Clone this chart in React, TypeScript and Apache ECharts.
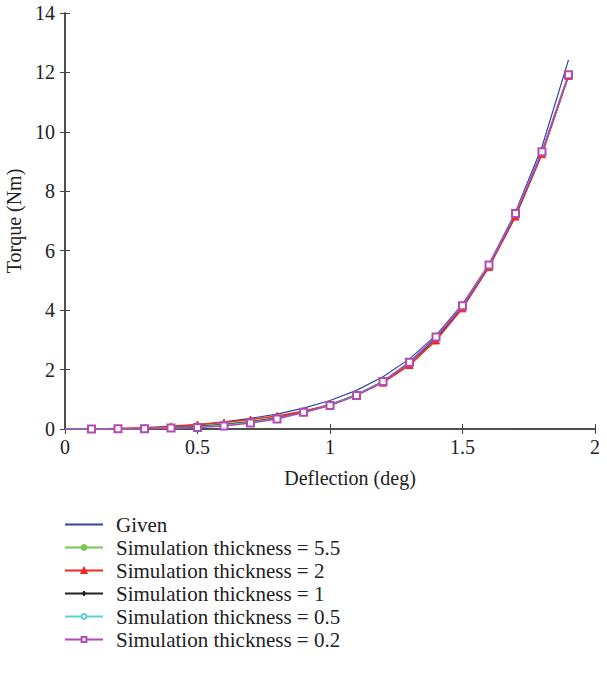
import React, { useEffect, useRef } from "react";
import * as echarts from "echarts";

const deflection = [0, 0.1, 0.2, 0.3, 0.4, 0.5, 0.6, 0.7, 0.8, 0.9, 1.0, 1.1, 1.2, 1.3, 1.4, 1.5, 1.6, 1.7, 1.8, 1.9];
const given = [0, 0, 0.01, 0.03, 0.07, 0.14, 0.24, 0.36, 0.5, 0.7, 0.96, 1.3, 1.76, 2.36, 3.15, 4.2, 5.55, 7.3, 9.5, 12.42];
const sim55 = [0, 0, 0.01, 0.02, 0.05, 0.1, 0.16, 0.26, 0.38, 0.58, 0.82, 1.16, 1.6, 2.22, 3.05, 4.12, 5.5, 7.2, 9.3, 11.9];
const sim2 = [0, 0, 0.02, 0.04, 0.09, 0.15, 0.22, 0.32, 0.44, 0.6, 0.82, 1.14, 1.56, 2.15, 2.98, 4.06, 5.45, 7.15, 9.25, 11.88];
const sim1 = [0, 0, 0.01, 0.02, 0.05, 0.09, 0.15, 0.24, 0.37, 0.57, 0.8, 1.15, 1.6, 2.22, 3.05, 4.12, 5.5, 7.2, 9.3, 11.9];
const sim05 = [0, 0, 0.01, 0.02, 0.04, 0.07, 0.13, 0.22, 0.35, 0.56, 0.8, 1.15, 1.6, 2.25, 3.1, 4.15, 5.52, 7.25, 9.33, 11.92];
const sim02 = [0, 0, 0.01, 0.01, 0.03, 0.05, 0.1, 0.2, 0.34, 0.56, 0.79, 1.13, 1.6, 2.25, 3.1, 4.15, 5.52, 7.25, 9.33, 11.92];

const seriesNames = [
  "Given",
  "Simulation thickness = 5.5",
  "Simulation thickness = 2",
  "Simulation thickness = 1",
  "Simulation thickness = 0.5",
  "Simulation thickness = 0.2",
];
const xTicks = [0, 0.5, 1, 1.5, 2];

const plusPath = "path://M0,5L10,5M5,0L5,10";

function pts(ys: number[], hideFirst: boolean) {
  return deflection.map((x, i) =>
    hideFirst && i === 0 ? { value: [x, ys[i]], symbol: "none" } : { value: [x, ys[i]] }
  );
}

export default function App() {
  const ref = useRef<HTMLDivElement>(null);
  useEffect(() => {
    if (!ref.current) return;
    const chart = echarts.init(ref.current, undefined, { renderer: "svg" });
    const font = "Liberation Serif";
    const axisLine = { show: true, lineStyle: { color: "#444", width: 1.5 } };
    const mk = (
      name: string,
      ys: number[],
      color: string,
      symbol: string,
      size: number,
      width: number
    ) => ({
      name,
      type: "line",
      data: pts(ys, true),
      symbol,
      symbolSize: size,
      showSymbol: true,
      lineStyle: { color, width },
      itemStyle: { color, borderColor: color, borderWidth: 1 },
    });
    chart.setOption({
      animation: false,
      textStyle: { fontFamily: font },
      grid: { left: 65, right: 12, top: 13, bottom: 245, containLabel: false, outerBoundsMode: "none" },
      legend: {
        orient: "vertical",
        left: 59,
        top: 509,
        height: 160,
        itemWidth: 38,
        itemHeight: 6,
        itemGap: 2,
        textStyle: { fontFamily: font, fontSize: 21, color: "#222", padding: [0, 0, 0, 8] },
        data: [
          { name: seriesNames[0], itemStyle: { opacity: 0 } },
          ...seriesNames.slice(1),
        ],
      },
      xAxis: [
        {
          type: "value",
          min: 0,
          max: 2,
          interval: 0.5,
          name: "Deflection (deg)",
          nameLocation: "middle",
          nameGap: 39,
          nameTextStyle: { fontFamily: font, fontSize: 20, color: "#222", padding: [0, 0, 0, 40] },
          axisLine,
          axisTick: { show: true, inside: true, length: 5, lineStyle: { color: "#444" } },
          axisLabel: {
            fontFamily: font,
            fontSize: 20,
            color: "#222",
            margin: 8,
            formatter: (v: number) => (xTicks.includes(v) ? String(v) : ""),
          },
          splitLine: { show: false },
        },
        {
          type: "value",
          position: "top",
          min: 0,
          max: 2,
          interval: 0.5,
          axisLine,
          axisTick: { show: true, inside: true, length: 5, lineStyle: { color: "#444" } },
          axisLabel: { show: false },
          splitLine: { show: false },
        },
      ],
      yAxis: [
        {
          type: "value",
          min: 0,
          max: 14,
          interval: 2,
          name: "Torque (Nm)",
          nameLocation: "middle",
          nameGap: 29,
          nameTextStyle: { fontFamily: font, fontSize: 20, color: "#222" },
          axisLine,
          axisTick: { show: true, inside: true, length: 5, lineStyle: { color: "#444" } },
          axisLabel: { fontFamily: font, fontSize: 20, color: "#222", margin: 10 },
          splitLine: { show: false },
        },
        {
          type: "value",
          position: "right",
          min: 0,
          max: 14,
          interval: 2,
          axisLine,
          axisTick: { show: true, inside: true, length: 5, lineStyle: { color: "#444" } },
          axisLabel: { show: false },
          splitLine: { show: false },
        },
      ],
      series: [
        {
          name: seriesNames[0],
          type: "line",
          data: deflection.map((x, i) => [x, given[i]]),
          symbol: "none",
          lineStyle: { color: "#2f45a8", width: 1.2 },
          itemStyle: { color: "#2f45a8" },
        },
        mk(seriesNames[1], sim55, "#78c850", "circle", 4, 1.5),
        mk(seriesNames[2], sim2, "#ee2a24", "triangle", 7, 1.5),
        mk(seriesNames[3], sim1, "#222222", plusPath, 6, 1.3),
        { ...mk(seriesNames[4], sim05, "#5ccfd8", "emptyCircle", 6, 1.5), itemStyle: { color: "#5ccfd8", borderColor: "#5ccfd8", borderWidth: 1.2 } },
        { ...mk(seriesNames[5], sim02, "#b24cb4", "emptyRect", 7, 1.6), itemStyle: { color: "#b24cb4", borderColor: "#b24cb4", borderWidth: 1.3 } },
      ],
    });
    return () => chart.dispose();
  }, []);
  return <div ref={ref} style={{ width: 607, height: 674, position: "absolute", left: 0, top: 0 }} />;
}
